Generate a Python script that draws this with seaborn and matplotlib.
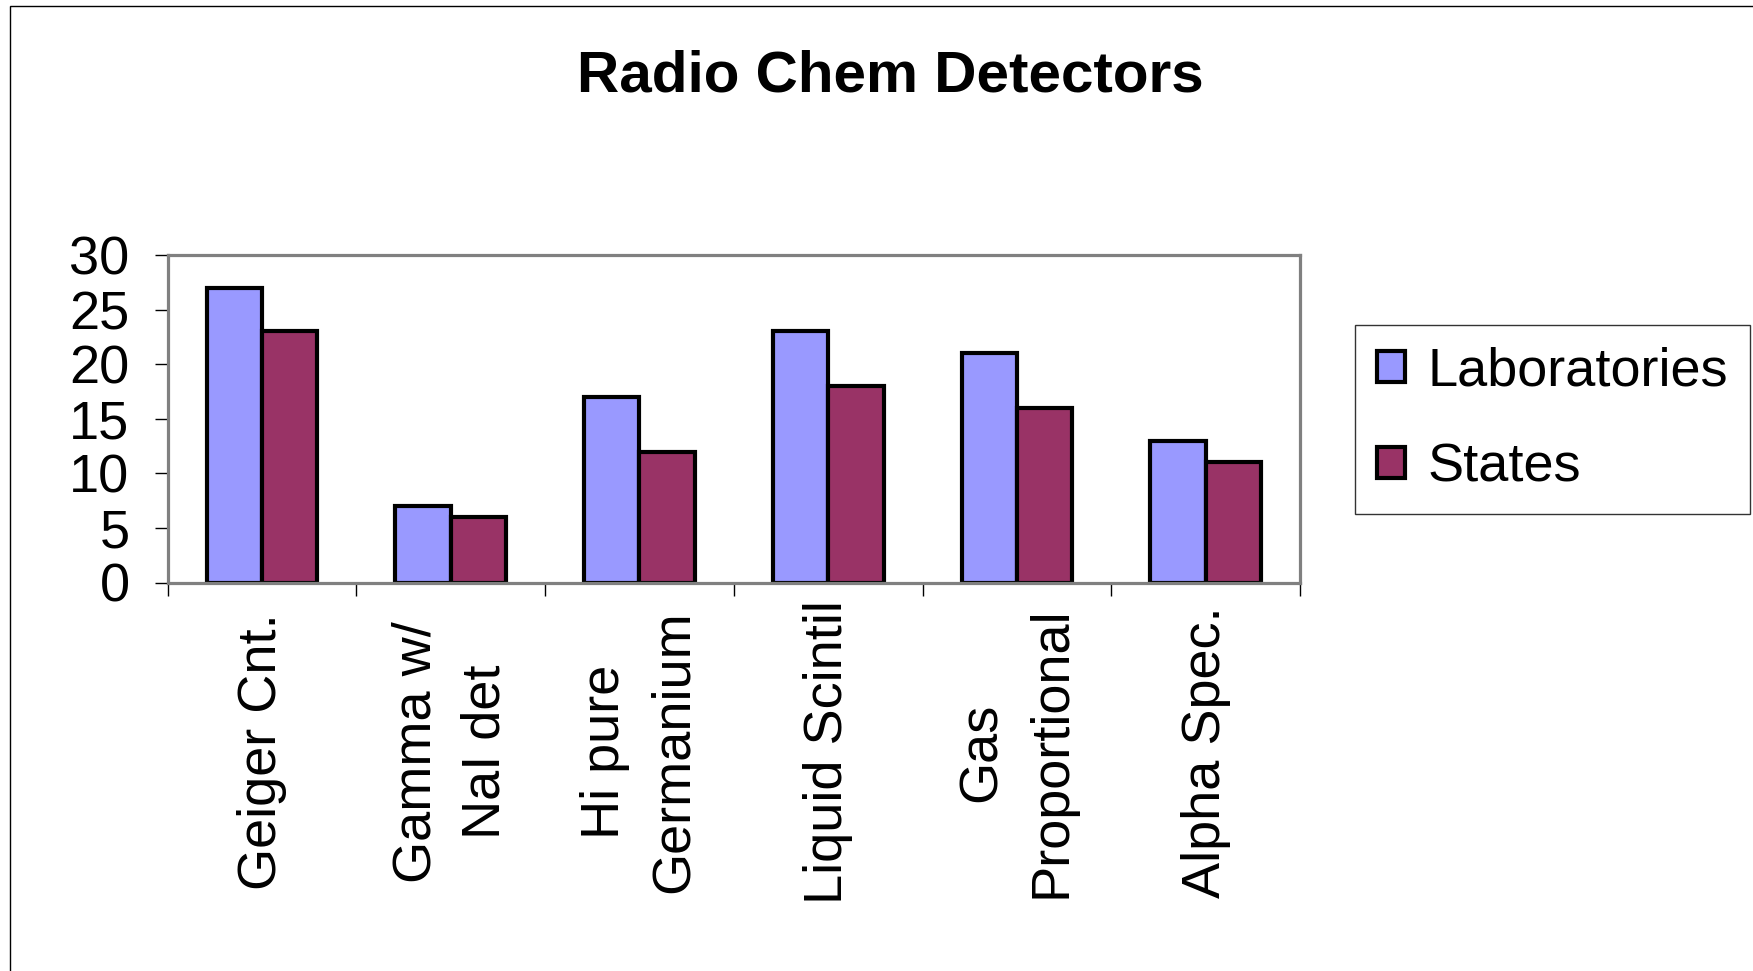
import matplotlib
matplotlib.use("Agg")
import matplotlib.pyplot as plt
import matplotlib.patches as mpatches
import seaborn as sns
import pandas as pd

categories = ["Geiger Cnt.", "Gamma w/\nNaI det", "Hi pure\nGermanium",
              "Liquid Scintil", "Gas\nProportional", "Alpha Spec."]
laboratories = [27, 7, 17, 23, 21, 13]
states = [23, 6, 12, 18, 16, 11]
series_names = ["Laboratories", "States"]
colors = ["#9999FF", "#993366"]
yticks = [0, 5, 10, 15, 20, 25, 30]

df = pd.DataFrame({
    "category": categories * 2,
    "series": [series_names[0]] * len(categories) + [series_names[1]] * len(categories),
    "value": laboratories + states,
})

sns.set_theme(style="white")
plt.rcParams["font.family"] = ["Liberation Sans", "DejaVu Sans"]
plt.rcParams["text.color"] = "black"
plt.rcParams["xtick.color"] = "black"
plt.rcParams["ytick.color"] = "black"
plt.rcParams["axes.labelcolor"] = "black"

W, H = 1753, 971
fig = plt.figure(figsize=(W / 100, H / 100), dpi=100)
ax = fig.add_axes([167.7 / W, 1 - 582.5 / H, (1300 - 167.7) / W, (582.5 - 255) / H])

sns.barplot(data=df, x="category", y="value", hue="series", order=categories,
            hue_order=series_names, palette=colors, width=0.586,
            edgecolor="black", linewidth=3, saturation=1, ax=ax, legend=False)

ax.set_xlim(-0.5, len(categories) - 0.5)
ax.set_ylim(0, 30)
ax.set_xlabel("")
ax.set_ylabel("")

for s in ax.spines.values():
    s.set_visible(True)
    s.set_color("#808080")
    s.set_linewidth(2.3)

ax.set_yticks(yticks)
ax.set_yticklabels([str(t) for t in yticks], fontsize=39, color="black")
ax.tick_params(axis="y", which="major", direction="out", length=9.5, width=1,
               color="black", pad=18, left=True)

ax.set_xticks(range(len(categories)))
ax.set_xticklabels(categories, rotation=90, ha="center", va="center",
                   multialignment="center", linespacing=1.5, fontsize=39, color="black")
ax.tick_params(axis="x", which="major", length=0, pad=122, bottom=True)
ax.set_xticks([i - 0.5 for i in range(len(categories) + 1)], minor=True)
ax.tick_params(axis="x", which="minor", direction="out", length=9.5, width=1,
               color="black", bottom=True)

fig.text(890 / W, 1 - 76 / H, "Radio Chem Detectors", fontsize=42,
         fontweight="bold", ha="center", va="center", color="black")

handles = [mpatches.Patch(facecolor=c, edgecolor="black", linewidth=3) for c in colors]
leg = fig.legend(handles, series_names, loc="upper left",
                 bbox_to_anchor=(1355 / W, 1 - 325 / H), bbox_transform=fig.transFigure,
                 fontsize=39, frameon=True, fancybox=False, borderaxespad=0,
                 handlelength=0.52, handleheight=0.52, handletextpad=0.42,
                 labelspacing=0.85, borderpad=0.4)
leg.get_frame().set_edgecolor("black")
leg.get_frame().set_linewidth(1)
for t in leg.get_texts():
    t.set_color("black")

border = mpatches.Rectangle((10 / W, -0.2), 2, 1 - 5.6 / H + 0.2, transform=fig.transFigure,
                            fill=False, edgecolor="black", linewidth=1)
fig.patches.append(border)

fig.savefig("out.png", dpi=100, facecolor="white")
